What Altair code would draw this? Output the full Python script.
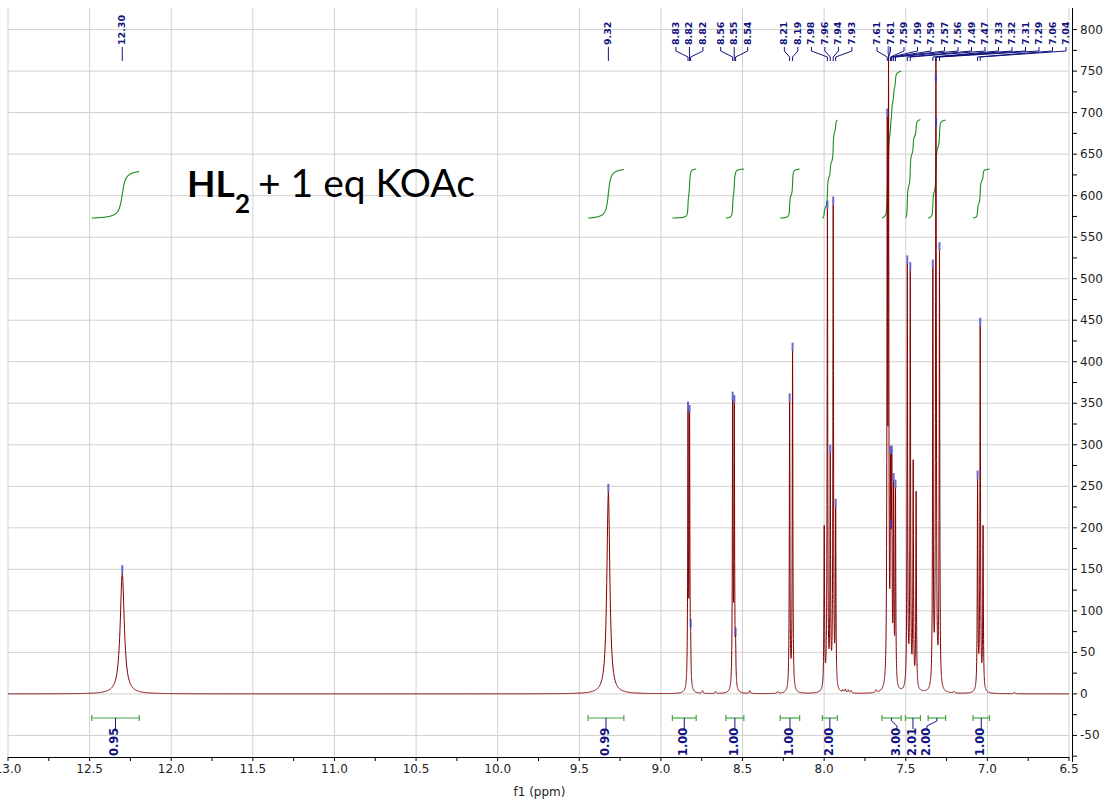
import numpy as np
import pandas as pd
import altair as alt

# ---- resolved lines of the 1H spectrum: shift (ppm), apex height, half width at half height (ppm)
line_ppm = [12.300, 9.322,
            8.834, 8.8245, 8.818,
            8.5605, 8.5505, 8.5425,
            8.2115, 8.1935,
            7.9995, 7.9800, 7.9625, 7.9445, 7.9295,
            7.6135, 7.6055, 7.5935, 7.5895, 7.5855, 7.5745, 7.5630,
            7.4905, 7.4725, 7.4545, 7.4365,
            7.3340, 7.3160, 7.3140, 7.2935,
            7.0600, 7.0440, 7.0265]
line_height = [145, 243,
               342, 338, 80,
               354, 350, 70,
               352, 413,
               203, 584, 290, 589, 225,
               695, 770, 289, 200, 289, 256, 248,
               518, 510, 282, 244,
               513, 737, 683, 534,
               259, 443, 203]
line_hwhm = [0.015, 0.011] + [0.0022] * 31

# small baseline features
ripple_ppm = [8.745, 8.665, 8.455, 8.285, 7.885, 7.870, 7.852, 7.835, 7.682, 7.405, 7.388, 7.245, 7.205, 6.835]
ripple_height = [4, 3, 4, 3, 5, 6, 5, 4, 5, 5, 4, 3, 3, 2]
ripple_hwhm = 0.004

# peak-picking groups (shifts of the picked lines)
pick_groups = [
    [12.300],
    [9.322],
    [8.834, 8.8245, 8.818],
    [8.5605, 8.5505, 8.5425],
    [8.2115, 8.1935],
    [7.9800, 7.9625, 7.9445, 7.9295],
    [7.6135, 7.6055, 7.5935, 7.5895, 7.5855, 7.5745, 7.5630,
     7.4905, 7.4725, 7.3340, 7.3160, 7.3140, 7.2935, 7.0600, 7.0440],
]

# integration regions and normalised integrals
integral_from = [12.487, 9.446, 8.930, 8.602, 8.269, 8.011, 7.646, 7.502, 7.363, 7.088]
integral_to = [12.196, 9.227, 8.784, 8.492, 8.150, 7.919, 7.528, 7.410, 7.256, 6.987]
integral_value = [0.95, 0.99, 1.00, 1.00, 1.00, 2.00, 3.00, 2.01, 2.00, 1.00]
integral_label_nudge = [0, 0, 0, 0, 0, 0, -0.033, 0, 0.061, 0]

# axis ticks (major ticks carry labels and grid lines)
x_major = [6.5 + 0.5 * i for i in range(14)]
x_minor = [6.75 + 0.5 * i for i in range(13)]
y_major = [-50 + 50 * i for i in range(18)]
y_minor = [-75 + 50 * i for i in range(18)]

# ---- line-shape model
X = np.array(line_ppm + ripple_ppm, float)
H = np.array(line_height + ripple_height, float)
G = np.array(line_hwhm + [ripple_hwhm] * len(ripple_ppm), float)
A = 1.0 / (1.0 + ((X[:, None] - X[None, :]) / G[None, :]) ** 2)
amp = np.clip(np.linalg.solve(A, H), 0, None)


def spectrum(x):
    x = np.asarray(x, float)[:, None]
    return (amp / (1.0 + ((x - X) / G) ** 2)).sum(axis=1)


grid = [np.arange(6.5, 13.0 + 1e-9, 0.002)]
for x0, g in zip(X, G):
    if g < 0.005:
        grid.append(x0 + np.arange(-62, 63) * 0.0004)
grid = np.unique(np.round(np.concatenate(grid), 5))
grid = grid[(grid >= 6.5) & (grid <= 13.0)]
spec_df = pd.DataFrame({"ppm": grid, "y": np.round(spectrum(grid), 2)})

# integral curves
integral_base = 573
integral_scale = 59
irows = []
for i, (a, b, v) in enumerate(zip(integral_from, integral_to, integral_value)):
    xs = np.linspace(a, b, 400)
    ys = spectrum(xs)
    cum = np.concatenate([[0.0], np.cumsum((ys[1:] + ys[:-1]) / 2 * np.abs(np.diff(xs)))])
    cum = cum / cum[-1]
    for xx, cc in zip(xs, cum):
        irows.append({"id": i, "ppm": round(float(xx), 5), "y": round(float(integral_base + integral_scale * v * cc), 2)})
int_df = pd.DataFrame(irows)

# integral brackets and labels
br_df = pd.DataFrame({
    "a": integral_from, "b": integral_to,
    "c": [(a + b) / 2 for a, b in zip(integral_from, integral_to)],
    "lx": [(a + b) / 2 + n for a, b, n in zip(integral_from, integral_to, integral_label_nudge)],
    "label": [f"{v:.2f}" for v in integral_value],
})
br_ends = pd.DataFrame({"x": integral_from + integral_to})

# peak labels laid out above the spectrum
W, HGT = 1061, 749
px_per_ppm = W / 6.5
spacing = 13.5 / px_per_ppm
right_edge = 6.5 + 3 / px_per_ppm
lrows = []
prev_last = None
for grp in pick_groups:
    n = len(grp)
    c = float(np.mean(grp))
    pos = [c + ((n - 1) / 2 - k) * spacing for k in range(n)]
    if prev_last is not None and prev_last - pos[0] < 0.9 * spacing:
        pos = [right_edge + (n - 1 - k) * spacing for k in range(n)]
    prev_last = pos[-1]
    for p, lx in zip(grp, pos):
        top = float(spectrum([p])[0])
        lrows.append({"px": p, "lx": lx, "label": f"{p:.2f}", "top": top, "top2": top + 10})
lab_df = pd.DataFrame(lrows)

# ---- chart
navy = "#12127e"
green_curve = "#1b8f1b"
green_bracket = "#44a544"
red = "#820000"
grid_color = "#d0d0d0"
ink = "#1e1e1e"
font = "DejaVu Sans"

xscale = alt.Scale(domain=[6.5, 13.0], reverse=True, nice=False, zero=False)
yscale = alt.Scale(domain=[-76, 826], nice=False, zero=False)


def xq(field):
    return alt.X(field, scale=xscale, axis=None)


def yq(field):
    return alt.Y(field, scale=yscale, axis=None)


xmaj_df = pd.DataFrame({"x": x_major, "label": [f"{v:.1f}" for v in x_major]})
xmin_df = pd.DataFrame({"x": x_minor})
ymaj_df = pd.DataFrame({"y": y_major, "label": [str(v) for v in y_major]})
ymin_df = pd.DataFrame({"y": y_minor})

# grid
xgrid = alt.Chart(xmaj_df).mark_rule(color=grid_color, strokeWidth=1).encode(
    x=xq("x:Q"), y=alt.value(0), y2=alt.value(HGT))
ygrid = alt.Chart(ymaj_df).mark_rule(color=grid_color, strokeWidth=1).encode(
    y=yq("y:Q"), x=alt.value(0), x2=alt.value(W))

# bottom axis
x_domain = alt.Chart(xmaj_df).mark_rule(color="#000", strokeWidth=1).encode(
    x=alt.value(0), x2=alt.value(W), y=alt.value(HGT + 0.5))
x_ticks = alt.Chart(pd.concat([xmaj_df[["x"]], xmin_df])).mark_rule(color="#000", strokeWidth=1).encode(
    x=xq("x:Q"), y=alt.value(HGT), y2=alt.value(HGT + 4))
x_labels = alt.Chart(xmaj_df).mark_text(
    font=font, fontSize=12, color=ink, align="center", baseline="top").encode(
    x=xq("x:Q"), y=alt.value(HGT + 7), text="label:N")
x_title = alt.Chart(pd.DataFrame({"t": ["f1 (ppm)"]})).mark_text(
    font=font, fontSize=12, color=ink, align="center", baseline="middle").encode(
    x=alt.value(W / 2 + 1), y=alt.value(HGT + 35), text="t:N")

# right axis
y_domain = alt.Chart(ymaj_df).mark_rule(color="#000", strokeWidth=1).encode(
    x=alt.value(W + 3.5), y=alt.value(0), y2=alt.value(HGT + 5))
y_ticks = alt.Chart(pd.concat([ymaj_df[["y"]], ymin_df])).mark_rule(color="#000", strokeWidth=1).encode(
    y=yq("y:Q"), x=alt.value(W + 4), x2=alt.value(W + 8))
y_labels = alt.Chart(ymaj_df).mark_text(
    font=font, fontSize=12, color=ink, align="left", baseline="middle").encode(
    y=yq("y:Q"), x=alt.value(W + 11), text="label:N")

spec = alt.Chart(spec_df).mark_line(color=red, strokeWidth=1).encode(x=xq("ppm:Q"), y=yq("y:Q"))

integrals = alt.Chart(int_df).mark_line(color=green_curve, strokeWidth=1.1).encode(
    x=xq("ppm:Q"), y=yq("y:Q"), detail="id:N")

markers = alt.Chart(lab_df).mark_rule(color="#3838c0", strokeWidth=2, opacity=0.75).encode(
    x=xq("px:Q"), y=yq("top:Q"), y2="top2:Q")

peak_text = alt.Chart(lab_df).mark_text(
    angle=270, align="left", baseline="middle", font=font, fontWeight="bold", fontSize=9.5, color=navy
).encode(x=xq("lx:Q"), y=alt.value(37), text="label:N")

conn1 = alt.Chart(lab_df).mark_rule(color=navy, strokeWidth=1).encode(
    x=xq("lx:Q"), y=alt.value(39), y2=alt.value(43))
conn2 = alt.Chart(lab_df).mark_rule(color=navy, strokeWidth=1).encode(
    x=xq("lx:Q"), x2="px:Q", y=alt.value(43), y2=alt.value(49))
conn3 = alt.Chart(lab_df).mark_rule(color=navy, strokeWidth=1).encode(
    x=xq("px:Q"), y=alt.value(49), y2=alt.value(53))

bracket = alt.Chart(br_df).mark_rule(color=green_bracket, strokeWidth=1.2).encode(
    x=xq("a:Q"), x2="b:Q", y=alt.value(710))
bracket_ends = alt.Chart(br_ends).mark_rule(color=green_bracket, strokeWidth=1.2).encode(
    x=xq("x:Q"), y=alt.value(707), y2=alt.value(713))
iconn1 = alt.Chart(br_df).mark_rule(color=navy, strokeWidth=1).encode(
    x=xq("c:Q"), y=alt.value(710), y2=alt.value(713))
iconn2 = alt.Chart(br_df).mark_rule(color=navy, strokeWidth=1).encode(
    x=xq("c:Q"), x2="lx:Q", y=alt.value(713), y2=alt.value(718))
iconn3 = alt.Chart(br_df).mark_rule(color=navy, strokeWidth=1).encode(
    x=xq("lx:Q"), y=alt.value(718), y2=alt.value(721))
int_text = alt.Chart(br_df).mark_text(
    angle=270, align="left", baseline="middle", font=font, fontWeight="bold", fontSize=11.5, color=navy
).encode(x=xq("lx:Q"), y=alt.value(748), text="label:N")

one = pd.DataFrame({"k": [0]})
t_hl = alt.Chart(one).mark_text(
    text="HL", font="Lato", fontWeight="bold", fontSize=37, align="left", baseline="alphabetic", color="#000"
).encode(x=alt.value(179), y=alt.value(189))
t_sub = alt.Chart(one).mark_text(
    text="2", font="Lato", fontWeight="bold", fontSize=26, align="left", baseline="alphabetic", color="#000"
).encode(x=alt.value(227), y=alt.value(205))
t_rest = alt.Chart(one).mark_text(
    text="+ 1 eq KOAc", font="Lato", fontSize=39, align="left", baseline="alphabetic", color="#000"
).encode(x=alt.value(250), y=alt.value(189))

chart = alt.layer(
    xgrid, ygrid, integrals, spec, markers,
    conn1, conn2, conn3, peak_text,
    bracket, bracket_ends, iconn1, iconn2, iconn3, int_text,
    x_domain, x_ticks, x_labels, x_title, y_domain, y_ticks, y_labels,
    t_hl, t_sub, t_rest,
).properties(
    width=W, height=HGT,
    autosize=alt.AutoSizeParams(type="none"),
    padding={"left": 8, "top": 8, "right": 39, "bottom": 45},
    background="white",
).configure_view(strokeWidth=0)

chart.save("out.html", embed_options={"renderer": "svg", "actions": False})
